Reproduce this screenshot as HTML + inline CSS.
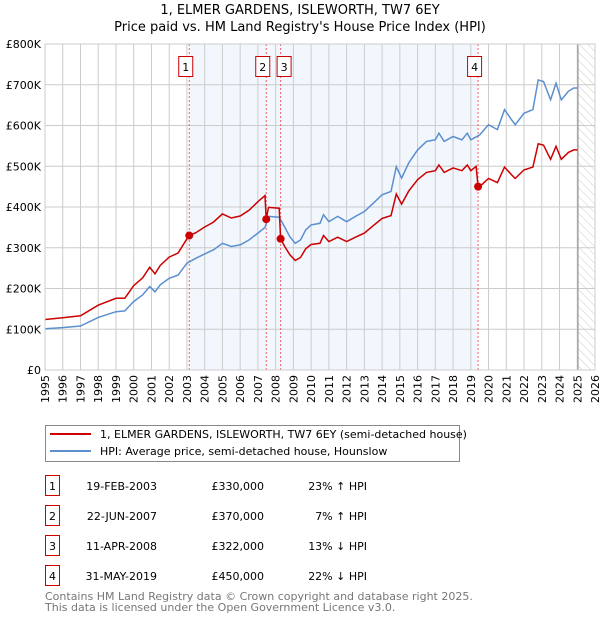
<!DOCTYPE html>
<html><head><meta charset="utf-8"><style>
body{margin:0;background:#fff;width:600px;height:620px;overflow:hidden;font-family:"DejaVu Sans","Liberation Sans",sans-serif}
svg{display:block}
</style></head><body>
<svg id="chart" width="600" height="620" xmlns="http://www.w3.org/2000/svg" font-family="DejaVu Sans, Liberation Sans, sans-serif">
<defs><pattern id="hatch" width="6" height="6" patternUnits="userSpaceOnUse" patternTransform="rotate(-45)"><line x1="0" y1="0" x2="0" y2="6" stroke="#ccc" stroke-width="1"/></pattern></defs>
<text x="300" y="14" text-anchor="middle" font-size="13">1, ELMER GARDENS, ISLEWORTH, TW7 6EY</text>
<text x="300" y="31" text-anchor="middle" font-size="13">Price paid vs. HM Land Registry's House Price Index (HPI)</text>
<g id="plot"></g>
<g>
<rect x="45.5" y="425.5" width="414" height="36" fill="#fff" stroke="#888"/>
<line x1="50" y1="434" x2="91" y2="434" stroke="#cc0000" stroke-width="2"/>
<text x="100" y="438" font-size="11">1, ELMER GARDENS, ISLEWORTH, TW7 6EY (semi-detached house)</text>
<line x1="50" y1="451" x2="91" y2="451" stroke="#5b8fd0" stroke-width="2"/>
<text x="100" y="455" font-size="11">HPI: Average price, semi-detached house, Hounslow</text>
</g>
<g id="table" font-size="11"></g>
<text x="45" y="600" font-size="11" fill="#777">Contains HM Land Registry data © Crown copyright and database right 2025.</text>
<text x="45" y="611" font-size="11" fill="#777">This data is licensed under the Open Government Licence v3.0.</text>
</svg>
<script>
const hpiYears=[1995,1996,1997,1998,1999,1999.5,2000,2000.5,2000.9,2001.2,2001.5,2002,2002.5,2003,2003.5,2004,2004.5,2005,2005.5,2006,2006.5,2007,2007.4,2007.6,2008.2,2008.5,2008.8,2009.1,2009.4,2009.7,2010,2010.5,2010.7,2011,2011.5,2012,2012.5,2013,2013.5,2014,2014.5,2014.8,2015.1,2015.5,2016,2016.5,2017,2017.2,2017.5,2018,2018.5,2018.8,2019,2019.5,2020,2020.5,2020.9,2021.3,2021.5,2022,2022.5,2022.8,2023.1,2023.5,2023.8,2024.1,2024.5,2024.8,2025];
const hpiValues=[101,104,108,129,143,145,168,184,205,192,209,225,233,262,274,285,295,311,303,307,319,336,350,377,375,352,327,311,319,344,356,360,381,364,377,364,377,389,409,430,438,499,471,508,540,561,565,581,561,573,565,581,565,577,602,590,639,614,602,630,639,712,708,663,704,663,684,692,692];
const paidYears=[1995,1996,1997,1998,1999,1999.5,2000,2000.5,2000.9,2001.2,2001.5,2002,2002.5,2003,2003.13,2003.5,2004,2004.5,2005,2005.5,2006,2006.5,2007,2007.4,2007.47,2007.6,2008.2,2008.28,2008.5,2008.8,2009.1,2009.4,2009.7,2010,2010.5,2010.7,2011,2011.5,2012,2012.5,2013,2013.5,2014,2014.5,2014.8,2015.1,2015.5,2016,2016.5,2017,2017.2,2017.5,2018,2018.5,2018.8,2019,2019.3,2019.41,2019.5,2020,2020.5,2020.9,2021.3,2021.5,2022,2022.5,2022.8,2023.1,2023.5,2023.8,2024.1,2024.5,2024.8,2025];
const paidValues=[124,128,133,159,176,176,207,226,252,236,257,277,287,322,330,337,351,363,383,373,378,392,413,428,370,399,397,322,304,283,269,276,298,308,311,330,315,326,315,326,336,354,372,379,432,407,439,467,485,489,503,485,496,489,503,489,500,450,450,470,460,498,479,470,491,498,555,552,517,549,517,534,540,540];
const saleLabels=["1","2","3","4"];
const saleYears=[2003.13,2007.47,2008.28,2019.41];
const saleValues=[330,370,322,450];
const saleDates=["19-FEB-2003","22-JUN-2007","11-APR-2008","31-MAY-2019"];
const salePrices=["£330,000","£370,000","£322,000","£450,000"];
const saleDiffs=["23% ↑ HPI","7% ↑ HPI","13% ↓ HPI","22% ↓ HPI"];
const yTicks=[0,100,200,300,400,500,600,700,800];
const yTickLabels=["£0","£100K","£200K","£300K","£400K","£500K","£600K","£700K","£800K"];
const xTicks=[1995,1996,1997,1998,1999,2000,2001,2002,2003,2004,2005,2006,2007,2008,2009,2010,2011,2012,2013,2014,2015,2016,2017,2018,2019,2020,2021,2022,2023,2024,2025,2026];
const dataEnd=2025.04;

const L=45,R=595,T=44,B=370,X0=1995,X1=2026,Ymax=800;
const xs=y=>L+(y-X0)/(X1-X0)*(R-L);
const ys=v=>B-v/Ymax*(B-T);
const NS="http://www.w3.org/2000/svg";
const plot=document.getElementById('plot');
function mk(tag,attrs,parent){const e=document.createElementNS(NS,tag);for(const k in attrs)e.setAttribute(k,attrs[k]);(parent||plot).appendChild(e);return e;}

let e=mk('rect',{x:xs(saleYears[0]),y:T,width:xs(saleYears[3])-xs(saleYears[0]),height:B-T,fill:'#eef3fc',opacity:0.75});


e=mk('rect',{x:xs(dataEnd),y:T,width:R-xs(dataEnd),height:B-T,fill:'url(#hatch)'});


xTicks.forEach(t=>{
  e=mk('line',{x1:xs(t),x2:xs(t),y1:T,y2:B,stroke:'#ccc','stroke-width':1});
  
  
  const g=mk('g',{transform:'translate('+(xs(t)+4)+','+(B+5)+') rotate(-90)'});
  e=mk('text',{x:0,y:0,'font-size':11,'text-anchor':'end'},g);
  e.textContent=t;
  
  
});
yTicks.forEach((t,i)=>{
  e=mk('line',{x1:L,x2:R,y1:ys(t),y2:ys(t),stroke:'#ccc','stroke-width':1});
  
  
  e=mk('text',{x:L-4,y:ys(t)+4,'font-size':11,'text-anchor':'end'});
  e.textContent=yTickLabels[i];
  
  
});
e=mk('line',{x1:xs(dataEnd),x2:xs(dataEnd),y1:T,y2:B,stroke:'#888','stroke-width':1});


saleYears.forEach((s,i)=>{
  e=mk('line',{x1:xs(s),x2:xs(s),y1:T,y2:B,stroke:'#f06060','stroke-width':1,'stroke-dasharray':'2,2'});
  
  
});
const pts=(xa,va)=>xa.map((x,i)=>xs(x).toFixed(1)+','+ys(va[i]).toFixed(1)).join(' ');
e=mk('polyline',{points:pts(hpiYears,hpiValues),fill:'none',stroke:'#5b8fd0','stroke-width':1.5});


e=mk('polyline',{points:pts(paidYears,paidValues),fill:'none',stroke:'#cc0000','stroke-width':1.5});


saleYears.forEach((s,i)=>{
  e=mk('circle',{cx:xs(s),cy:ys(saleValues[i]),r:4,fill:'#cc0000'});
  
  
  const lx=i===1?xs(s)-10:i===2?xs(s)-3:xs(s)-10;
  e=mk('rect',{x:lx-0.5,y:56.5,width:14,height:20,fill:'#fff',stroke:'#cc0000'});
  
  
  e=mk('text',{x:lx+6.5,y:71,'font-size':11,'text-anchor':'middle'});
  e.textContent=saleLabels[i];
  
  
});
e=mk('rect',{x:L,y:T,width:R-L,height:B-T,fill:'none',stroke:'#ccc'});



const tbl=document.getElementById('table');
saleLabels.forEach((l,i)=>{
  const y=487+i*30;
  e=mk('rect',{x:45.5,y:y-11.5,width:14,height:20,fill:'#fff',stroke:'#cc0000'},tbl);
  
  
  e=mk('text',{x:52.5,y:y+3,'text-anchor':'middle'},tbl);e.textContent=l;
  
  
  e=mk('text',{x:157,y:y+3,'text-anchor':'end'},tbl);e.textContent=saleDates[i];
  
  
  e=mk('text',{x:264,y:y+3,'text-anchor':'end'},tbl);e.textContent=salePrices[i];
  
  
  e=mk('text',{x:367,y:y+3,'text-anchor':'end'},tbl);e.textContent=saleDiffs[i];
  
  
});
</script>
</body></html>
